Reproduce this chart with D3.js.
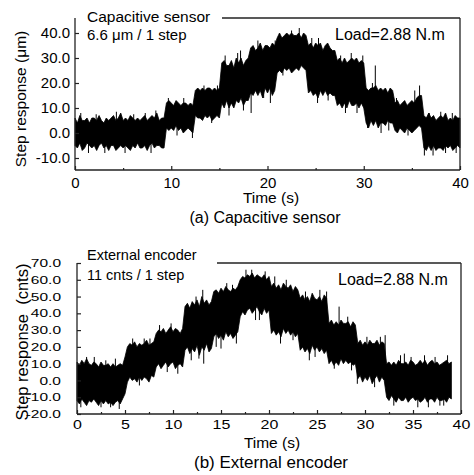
<!DOCTYPE html>
<html lang="en">
<head>
  <meta charset="UTF-8" />
  <title>Step response</title>
  <script src="https://d3js.org/d3.v7.min.js"></script>
  <style>
    html, body {
      margin: 0;
      padding: 0;
      background: #fff;
    }
    svg text {
      font-family: "Liberation Sans", Arial, sans-serif;
      fill: #000;
    }
  </style>
</head>
<body>
<div id="chart"></div>

<script>
// sampled every 0.25 s: upper and lower edge of the noise band
const capStep = 0.25;
const capHigh = [
  6,4,7,5, 5,6,4,6, 6,5,7,5, 4,6,5,6, 7,5,6,8, 5,6,5,7, 6,5,6,5, 6,7,5,6, 7,6,8,5, 6,6,12,13,
  12,11,13,12, 11,12,12,11, 12,11,17,18, 17,18,17,18, 18,17,18,17, 18,28,29,27, 27,29,26,30, 28,30,27,29, 30,34,35,33, 34,36,33,35,
  35,34,36,35, 38,40,38,39, 40,39,40,39, 39,40,38,40, 39,35,36,34, 36,35,36,33, 35,36,34,33, 33,29,30,28, 30,28,29,30, 29,30,28,29,
  28,18,17,18, 18,19,17,18, 17,18,16,18, 17,12,13,11, 12,13,11,12, 13,12,14,15, 15,7,6,8, 6,7,5,6, 7,6,8,5, 6,5,7,6,
  6
];
const capLow = [
  -5,-6,-4,-7, -6,-4,-5,-6, -5,-7,-5,-4, -6,-5,-7,-5, -5,-7,-6,-5, -6,-5,-6,-7, -5,-6,-4,-6, -6,-5,-7,-5, -4,-6,-5,-5, -6,-6,2,1,
  2,1,3,1, 2,0,1,2, 1,0,7,6, 6,5,7,6, 7,5,6,7, 6,12,10,13, 10,12,10,13, 12,14,11,13, 13,16,15,17, 15,17,14,18,
  16,18,15,17, 24,25,24,26, 25,26,24,25, 26,25,27,26, 25,16,17,15, 16,14,17,15, 17,15,16,15, 15,11,12,10, 12,10,13,11, 11,12,10,12,
  10,4,2,5, 3,5,2,4, 4,3,5,4, 4,1,0,2, 1,0,2,1, 0,1,2,3, 2,-6,-7,-5, -7,-5,-7,-6, -6,-7,-5,-6, -5,-7,-6,-5,
  -6
];
// isolated spikes [time, value]
const capSpikes = [
  [0.6, 8], [1.4, -8], [2.2, 7.5], [3.1, -8], [4.3, 8.5], [5.2, -8], [6.1, 7.5], [7.3, 8], [7.9, -8],
  [8.4, 9], [9.7, 14], [10.6, -1], [11.3, 14], [12.2, -2], [13.4, 19], [14.2, 4], [14.8, 19],
  [15.6, 31], [16.0, 7], [16.9, 32], [17.2, 33], [17.5, 9], [18.3, 8], [19.0, 37], [19.6, 14],
  [20.3, 12], [20.8, 37], [21.6, 23], [22.5, 41], [23.3, 42], [24.6, 38], [25.2, 12], [25.3, 38],
  [26.3, 13], [27.6, 31], [28.1, 8], [28.7, 32], [29.3, 8], [29.9, 31], [30.4, 2], [30.9, 20],
  [31.2, 27], [31.8, 0], [32.6, 1], [33.4, 14], [34.6, -1], [35.3, 17], [35.8, 19], [36.3, -9],
  [36.8, 8], [37.2, -9], [38.0, 8.5], [38.5, -8], [39.2, 8], [39.6, -8]
];

const encStep = 0.25;
const encHigh = [
  11,9,12,10, 13,10,9,11, 10,8,11,9, 9,10,8,10, 8,9,10,9, 14,20,22,21, 23,20,22,21, 22,24,21,22, 23,28,30,29, 31,28,30,32,
  29,31,30,28, 31,44,46,43, 47,45,48,44, 50,46,48,45, 47,53,54,52, 55,53,56,54, 53,55,54,56, 60,62,61,63, 62,64,61,63, 62,61,63,60,
  62,56,58,55, 57,54,58,56, 55,57,53,56, 54,49,51,48, 50,47,52,49, 48,50,47,51, 49,34,36,33, 35,33,36,34, 34,35,32,35, 33,22,24,21,
  23,21,24,22, 22,24,21,23, 22,10,11,9, 11,9,12,10, 10,11,9,12, 11,9,10,12, 10,12,9,11, 12,10,11,9, 10,11,12,10,
  11
];
const encLow = [
  -12,-14,-11,-13, -15,-12,-13,-11, -13,-15,-12,-14, -12,-14,-13,-15, -13,-12,-14,-11, -8,-1,2,0, 1,-1,2,0, 2,1,-1,3, 2,8,10,7, 9,11,8,10,
  11,7,9,10, 8,18,20,16, 19,17,21,15, 20,18,22,17, 19,26,28,25, 27,24,29,26, 28,25,27,29, 38,41,39,42, 43,40,42,44, 41,39,43,40,
  42,28,30,27, 29,26,31,28, 30,27,29,26, 28,18,20,17, 19,16,21,18, 20,17,19,16, 18,10,12,9, 11,9,13,10, 12,10,11,9, 10,1,3,-1,
  2,0,3,-2, 1,3,-1,2, 0,-10,-12,-9, -11,-13,-10,-12, -12,-10,-13,-11, -10,-12,-11,-13, -12,-10,-13,-11, -11,-13,-10,-12, -12,-11,-13,-10,
  -11
];
const encSpikes = [
  [0.4, -16], [1.0, 14], [1.8, 14], [2.5, -16], [3.0, 12], [3.5, -16], [4.0, 13], [4.4, -17],
  [5.8, 25], [6.5, -3], [7.0, 25], [7.6, 25], [8.6, 33], [9.4, 5], [9.8, 34], [10.5, 4],
  [11.9, 12], [12.4, 50], [12.7, 13], [13.1, 54], [13.2, 10], [14.5, 20], [15.0, 19], [15.6, 58],
  [16.2, 57], [16.6, 22], [17.6, 66], [18.2, 66], [18.6, 36], [19.0, 36], [19.6, 65], [20.6, 62],
  [21.2, 22], [21.8, 60], [22.5, 24], [23.8, 53], [24.2, 12], [24.8, 14], [25.3, 54], [26.0, 53],
  [26.8, 7], [27.3, 44], [28.2, 38], [28.6, 6], [29.2, -2], [30.2, 26], [31.0, -4], [31.6, 26],
  [32.1, 27], [33.0, -15], [33.7, 15], [34.1, 16], [34.8, 14], [35.5, -16], [36.2, 15], [36.6, -16],
  [37.3, 14], [37.8, -15], [38.2, -15], [38.6, 15]
];

const capTicksX = [0, 10, 20, 30, 40];
const capMinorX = [5, 15, 25, 35];
const capTicksY = [-10, 0, 10, 20, 30, 40];
const encTicksX = [0, 5, 10, 15, 20, 25, 30, 35, 40];
const encMinorX = [2.5, 7.5, 12.5, 17.5, 22.5, 27.5, 32.5, 37.5];
const encTicksY = [-20, -10, 0, 10, 20, 30, 40, 50, 60, 70];

const svg = d3.select("#chart").append("svg")
  .attr("width", 474)
  .attr("height", 475);

function squash(sel, sy) {
  sel.selectAll(".tick text").each(function () {
    const t = d3.select(this);
    const x = +t.attr("x") || 0, y = +t.attr("y") || 0;
    t.attr("x", 0).attr("y", 0)
      .attr("transform", `translate(${x},${y}) scale(1,${sy})`);
  });
}

function panel(p) {
  const g = svg.append("g");
  const x = d3.scaleLinear().domain([0, 40]).range(p.xRange);
  const y = d3.scaleLinear().domain(p.yDomain).range(p.yRange);
  const [x0, x1] = p.xRange;
  const [yb, yt] = p.yRange;

  // signal band
  const band = p.high.map((h, i) => ({ t: i * p.step, hi: h, lo: p.low[i] }));
  g.append("path")
    .datum(band)
    .attr("fill", "#000")
    .attr("stroke", "#000")
    .attr("stroke-width", 0.8)
    .attr("d", d3.area().x(d => x(d.t)).y0(d => y(d.lo)).y1(d => y(d.hi)));

  g.selectAll(".spike")
    .data(p.spikes)
    .join("line")
    .attr("class", "spike")
    .attr("x1", d => x(d[0])).attr("x2", d => x(d[0]))
    .attr("y1", d => {
      const i = Math.round(d[0] / p.step);
      return y((band[i].hi + band[i].lo) / 2);
    })
    .attr("y2", d => y(d[1]))
    .attr("stroke", "#000")
    .attr("stroke-width", 1);

  // frame
  const frame = g.append("g").attr("stroke", "#222").attr("stroke-width", 1.3).attr("fill", "none");
  frame.append("line").attr("x1", x0).attr("x2", x0).attr("y1", yt).attr("y2", yb);
  frame.append("line").attr("x1", x0).attr("x2", x1).attr("y1", yb).attr("y2", yb);
  frame.append("line").attr("x1", x1).attr("x2", x1).attr("y1", yt).attr("y2", yb);
  frame.append("line").attr("x1", p.topFrom).attr("x2", x1).attr("y1", yt).attr("y2", yt);

  // axes
  const ax = g.append("g")
    .attr("transform", `translate(0,${yb})`)
    .call(d3.axisBottom(x).tickValues(p.ticksX).tickSizeInner(-4).tickSizeOuter(0)
      .tickPadding(p.xPad).tickFormat(d3.format("d")));
  ax.select(".domain").remove();
  ax.selectAll("text").style("font-size", p.xFont + "px");
  if (p.xSquash) squash(ax, p.xSquash);

  const axm = g.append("g")
    .attr("transform", `translate(0,${yb})`)
    .call(d3.axisBottom(x).tickValues(p.minorX).tickSizeInner(-2).tickSizeOuter(0).tickFormat(""));
  axm.select(".domain").remove();

  const ay = g.append("g")
    .attr("transform", `translate(${x0},0)`)
    .call(d3.axisLeft(y).tickValues(p.ticksY).tickSizeInner(-4).tickSizeOuter(0)
      .tickPadding(p.yPad).tickFormat(v => v.toFixed(1)));
  ay.select(".domain").remove();
  ay.selectAll("text").style("font-size", p.yFont + "px");
  if (p.ySquash) squash(ay, p.ySquash);

  g.selectAll(".tick line").attr("stroke", "#222").attr("stroke-width", 1.2);

  // labels
  g.append("text")
    .attr("transform", `translate(${p.yLabel[0]},${p.yLabel[1]}) rotate(-90)`)
    .attr("text-anchor", "middle")
    .style("font-size", p.yLabel[2] + "px")
    .style("white-space", "pre")
    .text(p.yTitle);

  p.texts.forEach(([txt, tx, ty, fs, anchor]) => {
    g.append("text")
      .attr("x", tx).attr("y", ty)
      .attr("text-anchor", anchor || "start")
      .style("font-size", fs + "px")
      .style("white-space", "pre")
      .text(txt);
  });
}

panel({
  high: capHigh, low: capLow, step: capStep, spikes: capSpikes,
  xRange: [75, 460], yDomain: [-14.8, 46], yRange: [170, 18], topFrom: 222,
  ticksX: capTicksX, minorX: capMinorX, ticksY: capTicksY,
  xPad: 7, xFont: 15, yPad: 5, yFont: 15,
  yTitle: "Step response (\u03bcm)", yLabel: [26, 99, 15.5],
  texts: [
    ["Capacitive sensor", 87, 22, 15.5],
    ["6.6 \u03bcm / 1 step", 87, 40, 15],
    ["Load=2.88 N.m", 335, 40, 16],
    ["Time (s)", 271, 203, 15.5, "middle"],
    ["(a) Capacitive sensor", 265, 223, 16, "middle"]
  ]
});

panel({
  high: encHigh, low: encLow, step: encStep, spikes: encSpikes,
  xRange: [77, 461], yDomain: [-20, 70], yRange: [414, 263], topFrom: 217,
  ticksX: encTicksX, minorX: encMinorX, ticksY: encTicksY,
  xPad: 6, xFont: 16, xSquash: 0.8, yPad: 16, yFont: 15.5, ySquash: 0.72,
  yTitle: "Step response  (cnts)", yLabel: [27.5, 342, 16.5],
  texts: [
    ["External encoder", 87, 260, 14.5],
    ["11 cnts / 1 step", 87, 280, 14.5],
    ["Load=2.88 N.m", 338, 285, 16],
    ["Time (s)", 272, 448, 15.5, "middle"],
    ["(b) External encoder", 271, 468, 17, "middle"]
  ]
});
</script>
</body>
</html>
